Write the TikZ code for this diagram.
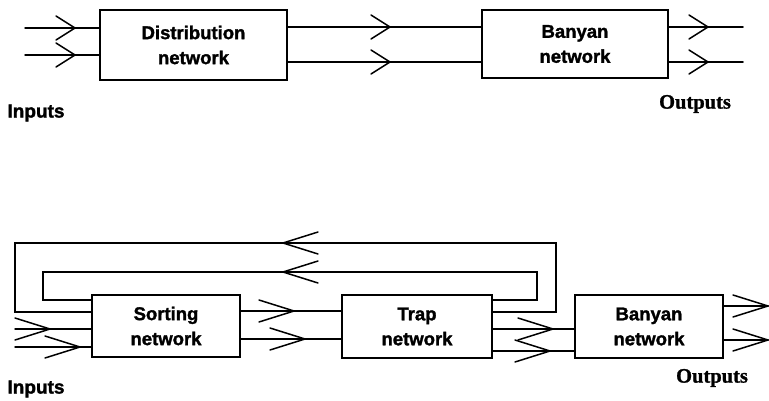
\documentclass[tikz,border=0pt]{standalone}
\usepackage{fontspec}
\setmainfont{Liberation Sans}
\newfontfamily\heavysans[FakeBold=1.6]{Liberation Sans Bold}
\newfontfamily\heavyserif[FakeBold=1.2]{Liberation Serif Bold}
\begin{document}
\begin{tikzpicture}[x=1pt,y=-1pt,
  box/.style={draw,line width=1.8pt,inner sep=0pt,align=center,
    font=\fontsize{18.5}{25}\selectfont\heavysans},
  conn/.style={line width=1.5pt,line cap=round,line join=miter},
  lbl/.style={font=\fontsize{19}{22}\selectfont\heavysans,inner sep=0pt},
  lblo/.style={font=\fontsize{20.5}{22}\selectfont\heavyserif,inner sep=0pt},
  chevs/.pic={\draw[conn] (-19,-12) -- (0,0) -- (-19,12);},
  chevl/.pic={\draw[conn] (-35,-11) -- (0,0) -- (-35,11);}
]
\useasboundingbox (0,0) rectangle (769,401);

% ---------- top diagram ----------
\node[box,minimum width=187pt,minimum height=70pt] (dist) at (193.5,45) {Distribution\\network};
\node[box,minimum width=186pt,minimum height=68pt] (ban1) at (575,44) {Banyan\\network};

\coordinate (i1) at (25,28);
\coordinate (i2) at (25,55);
\draw[conn] (i1) -- (i1 -| dist.west);
\draw[conn] (i2) -- (i2 -| dist.west);
\pic at (75,28) {chevs};
\pic at (75,55) {chevs};

\coordinate (m1) at (0,27);
\coordinate (m2) at (0,62);
\draw[conn] (m1 -| dist.east) -- (m1 -| ban1.west);
\draw[conn] (m2 -| dist.east) -- (m2 -| ban1.west);
\pic at (390,27) {chevs};
\pic at (390,62) {chevs};

\coordinate (o1) at (743,27);
\coordinate (o2) at (743,62);
\draw[conn] (o1 -| ban1.east) -- (o1);
\draw[conn] (o2 -| ban1.east) -- (o2);
\pic at (708,27) {chevs};
\pic at (708,62) {chevs};

\node[lbl] (inA) at (36,113) {Inputs};
\node[lblo] (outA) at (695,104) {Outputs};

% ---------- bottom diagram ----------
\node[box,minimum width=148pt,minimum height=62pt] (sort) at (166,326) {Sorting\\network};
\node[box,minimum width=150pt,minimum height=63pt] (trap) at (417,326.5) {Trap\\network};
\node[box,minimum width=148pt,minimum height=63pt] (ban2) at (649,326.5) {Banyan\\network};

% feedback loops
\coordinate (fo) at (0,312);
\coordinate (fi) at (0,300);
\coordinate (foR) at (556,243);
\coordinate (foL) at (15,243);
\coordinate (fiR) at (537,272);
\coordinate (fiL) at (43,272);
\draw[conn] (fo -| trap.east) -| (foR) -- (foL) |- (fo -| sort.west);
\draw[conn] (fi -| trap.east) -| (fiR) -- (fiL) |- (fi -| sort.west);
\pic[rotate=180] at (283,243) {chevl};
\pic[rotate=180] at (283,272) {chevl};

% inputs
\coordinate (j1) at (15,329);
\coordinate (j2) at (15,347);
\draw[conn] (j1) -- (j1 -| sort.west);
\draw[conn] (j2) -- (j2 -| sort.west);
\pic at (50,329) {chevl};
\pic at (80,347) {chevl};

% sorting -> trap
\coordinate (s1) at (0,311);
\coordinate (s2) at (0,339);
\draw[conn] (s1 -| sort.east) -- (s1 -| trap.west);
\draw[conn] (s2 -| sort.east) -- (s2 -| trap.west);
\pic at (294,311) {chevl};
\pic at (305,339) {chevl};

% trap -> banyan
\coordinate (t1) at (0,329);
\coordinate (t2) at (0,351);
\draw[conn] (t1 -| trap.east) -- (t1 -| ban2.west);
\draw[conn] (t2 -| trap.east) -- (t2 -| ban2.west);
\pic at (553,329) {chevl};
\pic at (550,351) {chevl};

% outputs
\coordinate (u1) at (768,306);
\coordinate (u2) at (768,340);
\draw[conn] (u1 -| ban2.east) -- (u1);
\draw[conn] (u2 -| ban2.east) -- (u2);
\pic at (768,306) {chevl};
\pic at (768,340) {chevl};

\node[lbl] (inB) at (36,389) {Inputs};
\node[lblo] (outB) at (712,378) {Outputs};
\end{tikzpicture}
\end{document}
